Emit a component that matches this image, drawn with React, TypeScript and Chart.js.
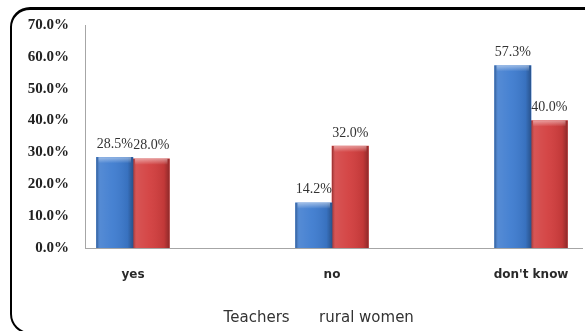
import React, { useEffect, useRef } from "react";
import { Chart, registerables } from "chart.js";

Chart.register(...registerables);

const categories = ["yes", "no", "don't know"];
const seriesNames = ["Teachers", "rural women"];
const teachers = [28.5, 14.2, 57.3];
const ruralWomen = [28.0, 32.0, 40.0];
const yTicks = [0, 10, 20, 30, 40, 50, 60, 70];

const BLUE = "#3d7bcf";
const RED = "#d23d3d";

const barShade = {
  id: "barShade",
  afterDatasetsDraw(chart: any) {
    const ctx = chart.ctx;
    chart.data.datasets.forEach((ds: any, di: number) => {
      const meta = chart.getDatasetMeta(di);
      meta.data.forEach((el: any) => {
        const { x, y, base, width } = el.getProps(["x", "y", "base", "width"], true);
        const left = x - width / 2;
        const g = ctx.createLinearGradient(left, 0, left + width, 0);
        g.addColorStop(0, "rgba(0,0,0,0.28)");
        g.addColorStop(0.1, "rgba(255,255,255,0.12)");
        g.addColorStop(0.45, "rgba(255,255,255,0.05)");
        g.addColorStop(0.85, "rgba(0,0,0,0.08)");
        g.addColorStop(1, "rgba(0,0,0,0.32)");
        ctx.save();
        ctx.fillStyle = g;
        ctx.fillRect(left, y, width, base - y);
        const tg = ctx.createLinearGradient(0, y, 0, y + 6);
        tg.addColorStop(0, "rgba(255,255,255,0.45)");
        tg.addColorStop(1, "rgba(255,255,255,0)");
        ctx.fillStyle = tg;
        ctx.fillRect(left + 2, y, width - 4, 6);
        ctx.restore();
      });
    });
  },
};

const valueLabels = {
  id: "valueLabels",
  afterDatasetsDraw(chart: any) {
    const ctx = chart.ctx;
    ctx.save();
    ctx.font = "14px 'Liberation Serif'";
    ctx.fillStyle = "#333";
    ctx.textAlign = "center";
    ctx.textBaseline = "bottom";
    chart.data.datasets.forEach((ds: any, di: number) => {
      const meta = chart.getDatasetMeta(di);
      meta.data.forEach((el: any, i: number) => {
        const v = ds.data[i].y;
        ctx.fillText(v.toFixed(1) + "%", el.x, el.y - 6);
      });
    });
    ctx.restore();
  },
};

const legendShift = {
  id: "legendShift",
  afterLayout(chart: any) {
    const lg = chart.legend;
    if (lg) {
      lg.left += 24;
      lg.right += 24;
      lg.top += 5;
      lg.bottom += 5;
    }
  },
};

export default function App() {
  const ref = useRef<HTMLCanvasElement>(null);
  useEffect(() => {
    if (!ref.current) return;
    const chart = new Chart(ref.current, {
      type: "bar",
      data: {
        datasets: [
          {
            label: seriesNames[0],
            data: teachers.map((v, i) => ({ x: i, y: v })),
            backgroundColor: BLUE,
            borderWidth: 0,
          },
          {
            label: seriesNames[1],
            data: ruralWomen.map((v, i) => ({ x: i, y: v })),
            backgroundColor: RED,
            borderWidth: 0,
          },
        ],
      },
      plugins: [barShade, valueLabels, legendShift],
      options: {
        responsive: false,
        animation: false,
        layout: { padding: { top: 25, right: 3, left: 0, bottom: 0 } },
        datasets: { bar: { barThickness: 36.5 } },
        scales: {
          x: {
            type: "linear",
            offset: false,
            min: -0.241,
            max: 2.256,
            grid: { display: false },
            border: { display: true, color: "#a6a6a6", width: 1 },
            afterBuildTicks(scale: any) {
              scale.ticks = categories.map((_, i) => ({ value: i }));
            },
            afterFit(scale: any) {
              scale.height = 36;
              scale.paddingLeft = 0;
              scale.paddingRight = 0;
            },
            ticks: {
              padding: 12,
              autoSkip: false,
              maxRotation: 0,
              color: "#2a2a2a",
              font: { family: "'DejaVu Sans'", size: 12, weight: "bold" },
              callback: (v: any) => categories[v as number] ?? "",
            },
          },
          y: {
            min: 0,
            max: 70,
            grid: { display: false },
            border: { display: true, color: "#a6a6a6", width: 1 },
            afterBuildTicks(scale: any) {
              scale.ticks = yTicks.map((v) => ({ value: v }));
            },
            afterFit(scale: any) {
              scale.width = 85;
            },
            ticks: {
              padding: 8,
              color: "#222",
              font: { family: "'Liberation Serif'", size: 15, weight: "bold" },
              callback: (v: any) => Number(v).toFixed(1) + "%",
            },
          },
        },
        plugins: {
          legend: {
            position: "bottom",
            labels: {
              boxWidth: 0,
              boxHeight: 14,
              padding: 22,
              color: "#333",
              font: { family: "'DejaVu Sans'", size: 15 },
              generateLabels: (ch: any) =>
                ch.data.datasets.map((d: any, i: number) => ({
                  text: d.label,
                  fillStyle: "rgba(0,0,0,0)",
                  strokeStyle: "rgba(0,0,0,0)",
                  lineWidth: 0,
                  hidden: false,
                  datasetIndex: i,
                  fontColor: "#333",
                })),
            },
          },
          tooltip: { enabled: false },
        },
      },
    });
    return () => chart.destroy();
  }, []);

  return (
    <div
      style={{
        position: "fixed",
        left: 0,
        top: 0,
        width: 585,
        height: 331,
        overflow: "hidden",
        background: "#fff",
      }}
    >
      <div
        style={{
          position: "absolute",
          left: 10,
          top: 7,
          width: 620,
          height: 327,
          boxSizing: "border-box",
          border: "2px solid #000",
          borderTopWidth: 3,
          borderRadius: 20,
        }}
      />
      <canvas
        ref={ref}
        width={585}
        height={331}
        style={{ position: "absolute", left: 0, top: 0, width: 585, height: 331 }}
      />
    </div>
  );
}
